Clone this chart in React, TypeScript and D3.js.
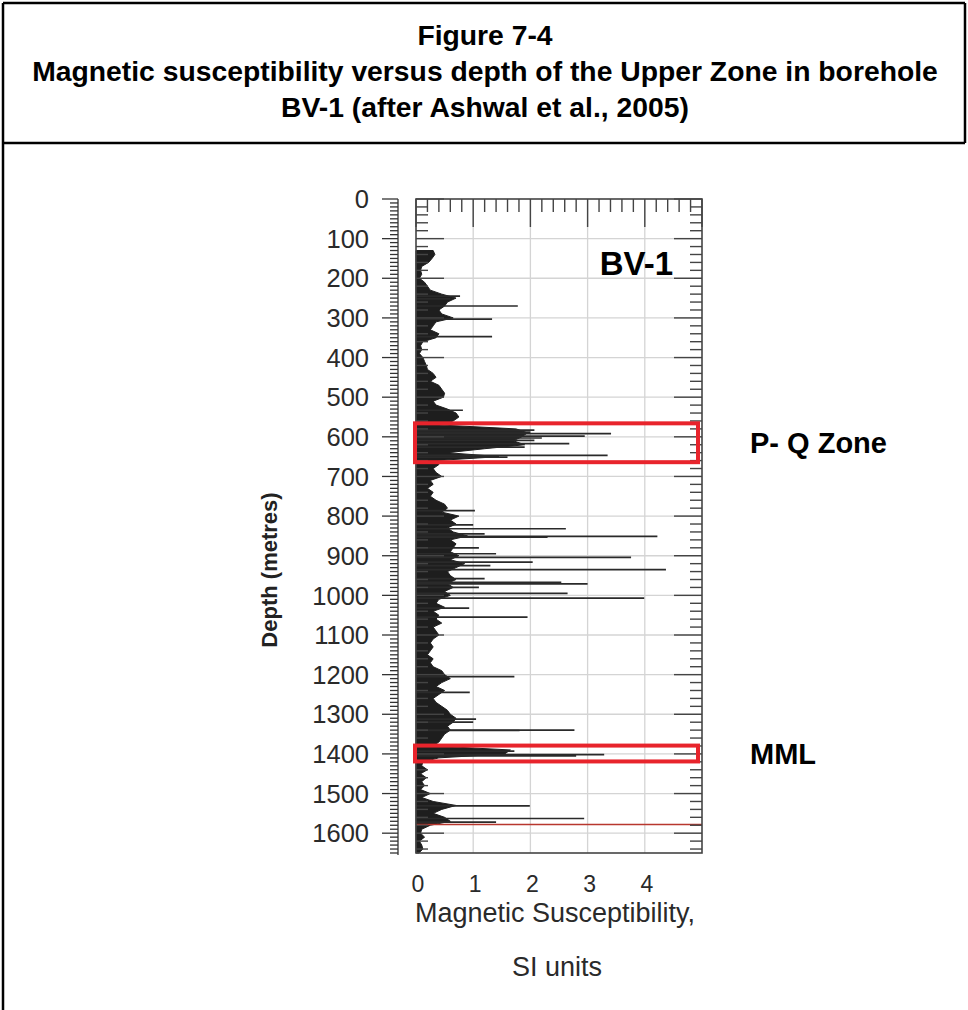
import React from "react";
import * as d3 from "d3";

// ---------- data ----------
const titleLines = [
  "Figure 7-4",
  "Magnetic susceptibility versus depth of the Upper Zone in borehole",
  "BV-1 (after Ashwal et al., 2005)",
];

const depthTicks = [0, 100, 200, 300, 400, 500, 600, 700, 800, 900, 1000, 1100, 1200, 1300, 1400, 1500, 1600];
const xTicks = [0, 1, 2, 3, 4];

// background log (10 m samples), SI units
const baseDepths = [
  130, 140, 150, 160, 170, 180, 190, 200, 210, 220, 230, 240, 250, 260, 270, 280, 290, 300, 310, 320,
  330, 340, 350, 360, 370, 380, 390, 400, 410, 420, 430, 440, 450, 460, 470, 480, 490, 500, 510, 520,
  530, 540, 550, 560, 570, 580, 590, 600, 610, 620, 630, 640, 650, 660, 670, 680, 690, 700, 710, 720,
  730, 740, 750, 760, 770, 780, 790, 800, 810, 820, 830, 840, 850, 860, 870, 880, 890, 900, 910, 920,
  930, 940, 950, 960, 970, 980, 990, 1000, 1010, 1020, 1030, 1040, 1050, 1060, 1070, 1080, 1090, 1100, 1110, 1120,
  1130, 1140, 1150, 1160, 1170, 1180, 1190, 1200, 1210, 1220, 1230, 1240, 1250, 1260, 1270, 1280, 1290, 1300, 1310, 1320,
  1330, 1340, 1350, 1360, 1370, 1380, 1390, 1400, 1410, 1420, 1430, 1440, 1450, 1460, 1470, 1480, 1490, 1500, 1510, 1520,
  1530, 1540, 1550, 1560, 1570, 1580, 1590, 1600, 1610, 1620, 1630, 1640, 1650,
];
const baseValues = [
  0.30, 0.33, 0.28, 0.22, 0.10, 0.08, 0.10, 0.06, 0.15, 0.20, 0.25, 0.45, 0.70, 0.55, 0.50, 0.40, 0.45, 0.65, 0.35, 0.30,
  0.25, 0.40, 0.35, 0.12, 0.08, 0.10, 0.06, 0.12, 0.15, 0.18, 0.20, 0.30, 0.35, 0.25, 0.40, 0.45, 0.50, 0.48, 0.30, 0.35,
  0.55, 0.70, 0.75, 0.65, 0.40, 1.75, 1.95, 1.85, 1.70, 1.90, 1.20, 0.55, 1.45, 0.35, 0.40, 0.30, 0.35, 0.45, 0.25, 0.30,
  0.20, 0.30, 0.25, 0.35, 0.50, 0.55, 0.45, 0.75, 0.60, 0.70, 0.55, 0.65, 0.90, 0.60, 0.70, 0.65, 0.60, 0.75, 0.60, 0.85,
  0.70, 0.55, 0.60, 0.70, 0.55, 0.65, 0.50, 0.60, 0.40, 0.35, 0.50, 0.30, 0.40, 0.35, 0.45, 0.30, 0.35, 0.40, 0.30, 0.25,
  0.30, 0.25, 0.20, 0.30, 0.25, 0.30, 0.45, 0.50, 0.60, 0.45, 0.35, 0.50, 0.40, 0.30, 0.35, 0.45, 0.55, 0.60, 0.70, 0.65,
  0.55, 0.60, 0.50, 0.45, 0.40, 0.30, 1.65, 1.55, 0.40, 0.12, 0.10, 0.20, 0.08, 0.18, 0.10, 0.15, 0.08, 0.25, 0.10, 0.30,
  0.70, 0.45, 0.30, 0.50, 0.60, 0.25, 0.10, 0.08, 0.15, 0.06, 0.10, 0.12, 0.05,
];

// individual high spikes
const spikeDepths = [
  245, 252, 270, 303, 347, 533, 583, 588, 592, 598, 603, 609, 617, 626, 647, 651, 786, 822, 832, 845, 851, 853,
  880, 895, 904, 916, 925, 935, 958, 967, 971, 980, 995, 1007, 1032, 1055, 1205, 1245, 1312, 1320, 1340, 1341,
  1393, 1402, 1405, 1531, 1563, 1572,
];
const spikeValues = [
  0.77, 0.6, 1.78, 1.33, 1.33, 0.82, 2.07, 2.0, 3.41, 2.95, 2.2, 2.07, 2.68, 1.9, 3.35, 1.6, 1.03, 1.0, 2.62, 1.2, 4.22, 2.3,
  1.1, 1.4, 3.76, 2.04, 1.3, 4.37, 1.2, 2.54, 3.0, 1.1, 2.65, 3.99, 0.93, 1.95, 1.72, 0.94, 1.05, 1.0, 2.77, 1.81,
  1.72, 3.29, 2.8, 1.99, 2.94, 1.4,
];

// highlighted zones (depth ranges, m) and labels
const zoneNames = ["P- Q Zone", "MML"];
const zoneTops = [566, 1379];
const zoneBottoms = [664, 1419];
const redLineDepth = 1578;

export default function App() {
  const W = 968;
  const H = 1010;
  const x = d3.scaleLinear().domain([0, 5]).range([416, 702]);
  const y = d3.scaleLinear().domain([0, 1650]).range([199, 853]);

  const base = baseDepths.map((d, i) => ({ d, v: baseValues[i] }));
  const area = d3
    .area<{ d: number; v: number }>()
    .y((p) => y(p.d))
    .x0(x(0))
    .x1((p) => x(p.v))
    .curve(d3.curveLinear);

  const minorX = d3.range(0, 5.001, 0.2);
  const minorD = d3.range(0, 1651, 20);
  const minorAxis = d3.range(0, 1651, 10);
  const font = "'Liberation Sans', Arial, Helvetica, sans-serif";

  const labelYs = [y(615), y(1399)];

  return (
    <svg
      width={W}
      height={H}
      viewBox={`0 0 ${W} ${H}`}
      style={{ position: "absolute", left: 0, top: 0, background: "#fff" }}
      fontFamily={font}
    >
      {/* outer frame */}
      <g stroke="#000" strokeWidth={2.5} fill="none">
        <line x1={3} y1={3} x2={965} y2={3} />
        <line x1={3} y1={3} x2={3} y2={H} />
        <line x1={965} y1={3} x2={965} y2={143} />
        <line x1={3} y1={143} x2={965} y2={143} />
      </g>

      {/* title */}
      {titleLines.map((t, i) => (
        <text
          key={i}
          x={485}
          y={35 + i * 36}
          dy="0.36em"
          textAnchor="middle"
          fontWeight="bold"
          fontSize={28.3}
          fill="#000"
        >
          {t}
        </text>
      ))}

      {/* grid */}
      <g stroke="#d4d4d4" strokeWidth={1.3}>
        {xTicks.slice(1).map((t) => (
          <line key={"gx" + t} x1={x(t)} x2={x(t)} y1={y(0)} y2={y(1650)} />
        ))}
        {depthTicks.slice(1).map((t) => (
          <line key={"gy" + t} x1={x(0)} x2={x(5)} y1={y(t)} y2={y(t)} />
        ))}
      </g>

      {/* log: background fill */}
      <path d={area(base) || ""} fill="#1e1e1e" stroke="#1e1e1e" strokeWidth={1} />
      {/* spikes */}
      <g stroke="#2a2a2a" strokeWidth={1.7}>
        {spikeDepths.map((d, i) => (
          <line key={"s" + i} x1={x(0)} x2={x(spikeValues[i])} y1={y(d)} y2={y(d)} />
        ))}
      </g>

      {/* red line */}
      <line x1={x(0)} x2={x(5)} y1={y(redLineDepth)} y2={y(redLineDepth)} stroke="#b8372e" strokeWidth={1.5} />

      {/* frame ticks */}
      <g stroke="#444" strokeWidth={1.4}>
        {minorX.map((t, i) => (
          <line
            key={"tx" + i}
            x1={x(t)}
            x2={x(t)}
            y1={y(0)}
            y2={y(0) + (Math.abs(t - Math.round(t)) < 1e-6 ? 28 : 13)}
          />
        ))}
        {minorD.map((t) => {
          const len = t % 100 === 0 ? 28 : 12;
          return (
            <g key={"td" + t}>
              <line x1={x(0)} x2={x(0) + len} y1={y(t)} y2={y(t)} />
              <line x1={x(5)} x2={x(5) - len} y1={y(t)} y2={y(t)} />
            </g>
          );
        })}
      </g>
      <rect
        x={x(0)}
        y={y(0)}
        width={x(5) - x(0)}
        height={y(1650) - y(0)}
        fill="none"
        stroke="#444"
        strokeWidth={1.6}
      />

      {/* BV-1 label */}
      <text x={673} y={275} textAnchor="end" fontWeight="bold" fontSize={33} fill="#000">
        BV-1
      </text>

      {/* zone boxes */}
      {zoneNames.map((n, i) => (
        <g key={n}>
          <rect
            x={x(0) - 1}
            y={y(zoneTops[i])}
            width={x(5) - x(0) - 3}
            height={y(zoneBottoms[i]) - y(zoneTops[i])}
            fill="none"
            stroke="#e8242c"
            strokeWidth={4}
          />
          <text x={750} y={labelYs[i]} dy="0.36em" fontWeight="bold" fontSize={29} fill="#000">
            {n}
          </text>
        </g>
      ))}

      {/* depth axis */}
      <g stroke="#333" strokeWidth={1.3}>
        <line x1={398} x2={398} y1={y(0)} y2={y(1650) + 2} />
        {minorAxis.map((t) => (
          <line key={"ma" + t} x1={t % 100 === 0 ? 382 : 390} x2={398} y1={y(t)} y2={y(t)} />
        ))}
      </g>
      {depthTicks.map((t) => (
        <text key={"dl" + t} x={369} y={y(t)} dy="0.36em" textAnchor="end" fontSize={25.5} fill="#2a2a2a">
          {t}
        </text>
      ))}
      <text
        transform={`translate(277,570) rotate(-90)`}
        textAnchor="middle"
        fontWeight="bold"
        fontSize={22}
        fill="#222"
      >
        Depth (metres)
      </text>

      {/* x axis labels */}
      {xTicks.map((t) => (
        <text key={"xl" + t} x={x(t) + 2} y={892} textAnchor="middle" fontSize={23} fill="#2a2a2a">
          {t}
        </text>
      ))}
      <text x={555} y={922} textAnchor="middle" fontSize={27} fill="#2a2a2a">
        Magnetic Susceptibility,
      </text>
      <text x={557} y={976} textAnchor="middle" fontSize={27} fill="#2a2a2a">
        SI units
      </text>
    </svg>
  );
}
